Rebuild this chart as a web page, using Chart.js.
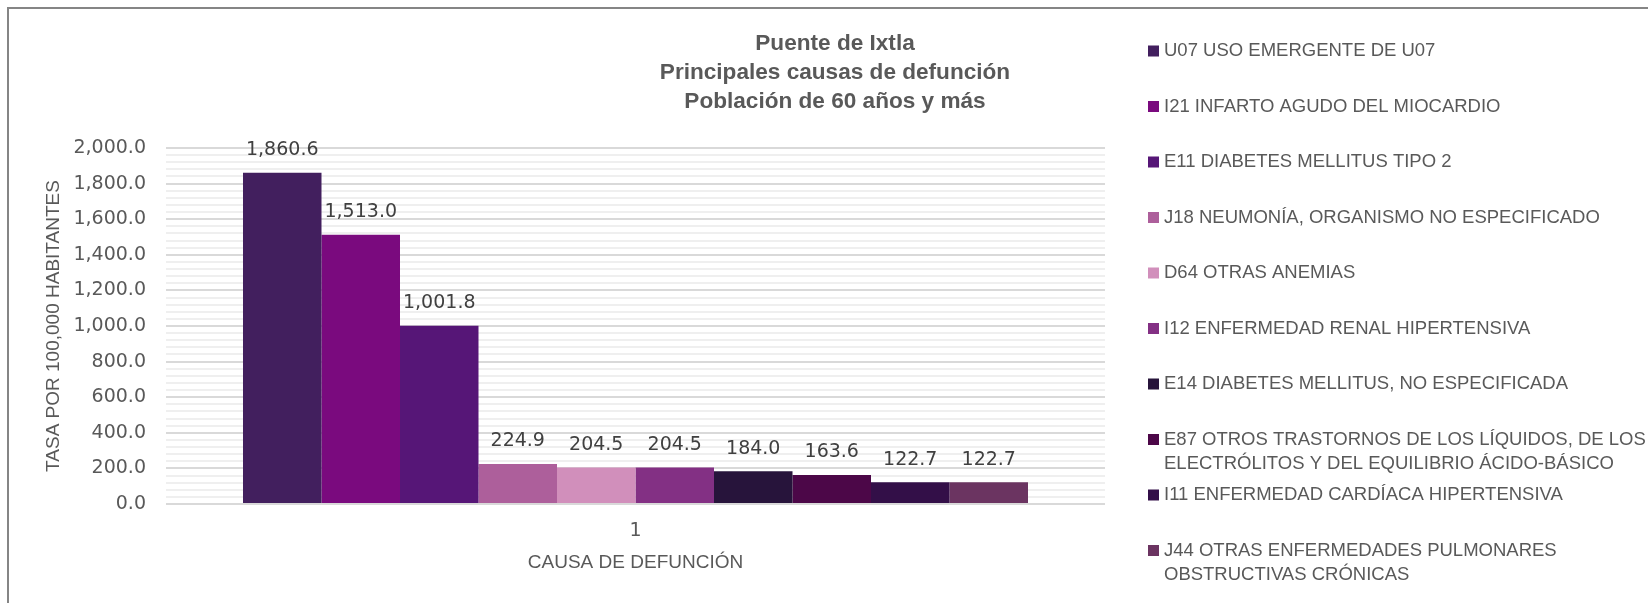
<!DOCTYPE html>
<html>
<head>
<meta charset="utf-8">
<title>Puente de Ixtla - Principales causas de defunción</title>
<script src="https://cdn.jsdelivr.net/npm/chart.js@4.4.1/dist/chart.umd.min.js"></script>
<style>
  html, body { margin: 0; padding: 0; background: #fff; }
  #wrap { width: 1648px; height: 603px; }
</style>
</head>
<body>
<div id="wrap"><canvas id="causasChart" width="1648" height="603"></canvas></div>
<script>
// --- data ---
const titleLines = ['Puente de Ixtla', 'Principales causas de defunción', 'Población de 60 años y más'];
const categories = ['1'];
const causes = [
  'U07 USO EMERGENTE DE U07',
  'I21 INFARTO AGUDO DEL MIOCARDIO',
  'E11 DIABETES MELLITUS TIPO 2',
  'J18 NEUMONÍA, ORGANISMO NO ESPECIFICADO',
  'D64 OTRAS ANEMIAS',
  'I12 ENFERMEDAD RENAL HIPERTENSIVA',
  'E14 DIABETES MELLITUS, NO ESPECIFICADA',
  'E87 OTROS TRASTORNOS DE LOS LÍQUIDOS, DE LOS\nELECTRÓLITOS Y DEL EQUILIBRIO ÁCIDO-BÁSICO',
  'I11 ENFERMEDAD CARDÍACA HIPERTENSIVA',
  'J44 OTRAS ENFERMEDADES PULMONARES\nOBSTRUCTIVAS CRÓNICAS'
];
const rates = [1860.6, 1513.0, 1001.8, 224.9, 204.5, 204.5, 184.0, 163.6, 122.7, 122.7];
const colors = ['#421f5e', '#7a0a7e', '#561677', '#ad5f9b', '#d18fbb', '#833084', '#27143b', '#4c0748', '#330f48', '#6b3461'];
const yMin = 0, yMax = 2000, yMajorStep = 200, yMinorStep = 40;
const yAxisTitle = 'TASA POR 100,000 HABITANTES';
const xAxisTitle = 'CAUSA DE DEFUNCIÓN';

const TEXT = '#595959';
const NUM_FONT = '"DejaVu Sans", sans-serif';
const TXT_FONT = '"Liberation Sans", Arial, sans-serif';

const fmt = v => v.toLocaleString('en-US', { minimumFractionDigits: 1, maximumFractionDigits: 1 });

// frame around the chart (only the top and left edges are visible)
const framePlugin = {
  id: 'frame',
  beforeDraw(chart) {
    const ctx = chart.ctx;
    ctx.save();
    ctx.fillStyle = '#fff';
    ctx.fillRect(0, 0, chart.width, chart.height);
    ctx.fillStyle = '#858585';
    ctx.fillRect(7, 7, chart.width, 2);
    ctx.fillRect(7, 7, 2, chart.height);
    ctx.restore();
  }
};

// three line title, centred over the right part like in excel
const titlePlugin = {
  id: 'titleBlock',
  afterDraw(chart) {
    const ctx = chart.ctx;
    ctx.save();
    ctx.fillStyle = TEXT;
    ctx.font = 'bold 22.6px ' + TXT_FONT;
    ctx.textAlign = 'center';
    ctx.textBaseline = 'middle';
    titleLines.forEach((t, i) => ctx.fillText(t, 835, 43.5 + i * 29.2));
    ctx.restore();
  }
};

// value on top of each bar
const barValuesPlugin = {
  id: 'barValues',
  afterDatasetsDraw(chart) {
    const ctx = chart.ctx;
    ctx.save();
    ctx.fillStyle = '#404040';
    ctx.font = '19px ' + NUM_FONT;
    ctx.textAlign = 'center';
    ctx.textBaseline = 'middle';
    chart.data.datasets.forEach((ds, i) => {
      const meta = chart.getDatasetMeta(i);
      meta.data.forEach((bar, j) => {
        ctx.fillText(fmt(ds.data[j]), bar.x, bar.y - 22.5);
      });
    });
    ctx.restore();
  }
};

// legend column on the right, fixed row pitch, long names wrap below
const sideLegendPlugin = {
  id: 'sideLegend',
  afterDraw(chart) {
    const ctx = chart.ctx;
    ctx.save();
    ctx.font = '18.5px ' + TXT_FONT;
    ctx.textBaseline = 'middle';
    ctx.textAlign = 'left';
    chart.data.datasets.forEach((ds, i) => {
      const y = 51 + i * 55.5;
      ctx.fillStyle = ds.backgroundColor;
      ctx.fillRect(1148, y - 5.5, 11, 11);
      ctx.fillStyle = TEXT;
      ds.label.split('\n').forEach((line, k) => ctx.fillText(line, 1164, y + k * 24));
    });
    ctx.restore();
  }
};

const datasets = causes.map((name, i) => ({
  label: name,
  data: [rates[i]],
  backgroundColor: colors[i],
  borderWidth: 0,
  barPercentage: 1,
  categoryPercentage: 0.836
}));

new Chart(document.getElementById('causasChart'), {
  type: 'bar',
  data: { labels: categories, datasets: datasets },
  plugins: [framePlugin, titlePlugin, barValuesPlugin, sideLegendPlugin],
  options: {
    responsive: false,
    animation: false,
    layout: { padding: { left: 0, right: 543, top: 148, bottom: 0 } },
    plugins: {
      legend: { display: false },
      title: { display: false },
      tooltip: { enabled: false }
    },
    scales: {
      x: {
        grid: { display: false, drawTicks: false },
        border: { display: false },
        ticks: { color: TEXT, font: { family: NUM_FONT, size: 19 }, padding: 16 },
        title: {
          display: true,
          text: xAxisTitle,
          color: TEXT,
          font: { family: TXT_FONT, size: 19 },
          padding: { top: 0, bottom: 29 }
        },
        afterFit(scale) { scale.height = 99; }
      },
      y: {
        min: yMin,
        max: yMax,
        grid: {
          drawTicks: false,
          color: c => (c.tick && c.tick.value % yMajorStep === 0) ? '#d9d9d9' : '#efefef',
          lineWidth: 2
        },
        border: { display: false },
        ticks: {
          stepSize: yMinorStep,
          autoSkip: false,
          color: TEXT,
          font: { family: NUM_FONT, size: 19 },
          padding: 20,
          callback: v => (v % yMajorStep === 0 ? fmt(v) : '')
        },
        title: {
          display: true,
          text: yAxisTitle,
          color: TEXT,
          font: { family: TXT_FONT, size: 19 },
          padding: { top: 42, bottom: 0 }
        },
        afterFit(scale) { scale.width = 166; }
      }
    }
  }
});
</script>
</body>
</html>
